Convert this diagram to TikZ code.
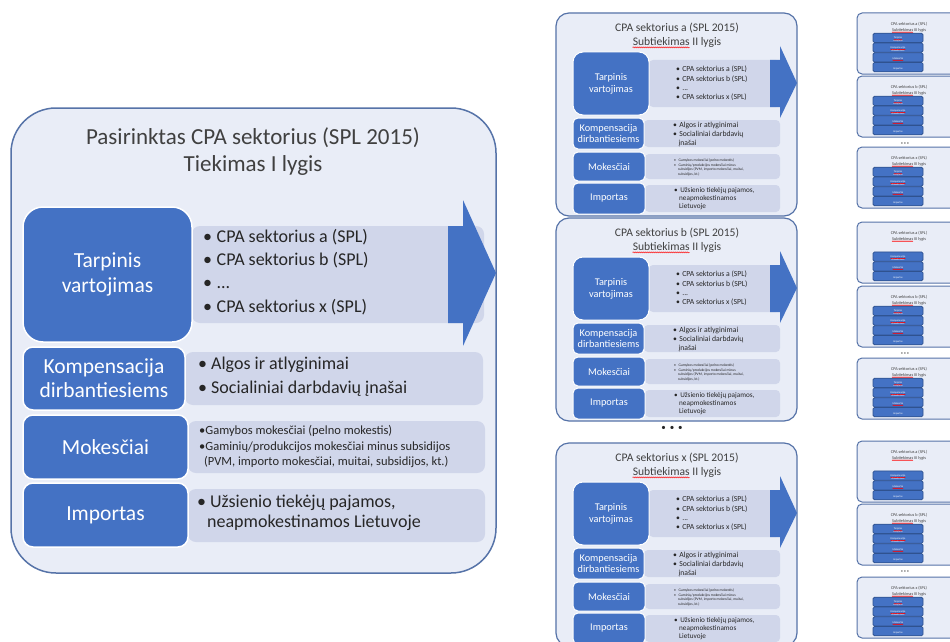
\documentclass[tikz,border=0pt]{standalone}
\usepackage{fontspec}
\setmainfont{Carlito}
\usetikzlibrary{decorations.pathmorphing}
\definecolor{boxblue}{HTML}{4472C4}
\definecolor{boxdark}{HTML}{2F528F}
\definecolor{panelfill}{HTML}{E9EDF7}
\definecolor{panelline}{HTML}{5673A8}
\definecolor{rowfill}{HTML}{D0D6EA}
\definecolor{titlegray}{HTML}{404040}
\definecolor{bodytext}{HTML}{262626}
\newcommand\fs[2]{\fontsize{#1}{#2}\selectfont}
\newlength\subwmid
\newlength\subwsmall
\AtBeginDocument{%
  \settowidth{\subwmid}{\fs{11.6}{14}Subtiekimas}%
  \settowidth{\subwsmall}{\fs{4.3}{5}Subtiekimas}%
}
\tikzset{
  panel/.style={fill=panelfill, draw=panelline, line width=1.5pt},
  row/.style={fill=rowfill},
  bluebox/.style={fill=boxblue, draw=white, line width=1.5pt, text=white, align=center, inner sep=0pt},
  txt/.style={text=bodytext, inner sep=0pt, anchor=mid west},
  ttl/.style={text=titlegray, inner sep=0pt, anchor=mid},
  squig/.style={draw=red, line width=0.4pt, decorate, decoration={snake, segment length=2pt, amplitude=0.6pt}},
  tinysquig/.style={draw=red, line width=0.3pt, decorate, decoration={snake, segment length=1pt, amplitude=0.35pt}},
  minibar/.style={fill=boxblue, draw=boxdark, line width=0.8pt, rounded corners=1.5pt, minimum width=50pt, minimum height=9.4pt, inner sep=0pt},
  barlbl/.style={text=white, inner sep=0pt, anchor=mid, font=\fs{2.6}{3}},
}
% middle panel: #1 = vertical offset, #2 = sector letter
\newcommand\midpanel[2]{%
\begin{scope}[shift={(0,#1)}]
  \draw[panel, line width=1.2pt, rounded corners=13pt] (556,13) rectangle (797,216);
  \node[ttl, font=\fs{11.6}{14}] (mtA#2) at (677,29) {CPA sektorius #2 (SPL 2015)};
  \node[ttl, font=\fs{11.6}{14}] (mtB#2) at (677,43) {Subtiekimas II lygis};
  \draw[squig] ([yshift=-2pt]mtB#2.base west) -- ([yshift=-2pt, xshift=\subwmid]mtB#2.base west);
  \fill[row, rounded corners=4pt] (649,60) rectangle (780,107);
  \fill[row, rounded corners=4pt] (644,120) rectangle (780,147);
  \fill[row, rounded corners=4pt] (645,154) rectangle (780,179);
  \fill[row, rounded corners=4pt] (645,185) rectangle (780,212);
  \fill[boxblue] (770,60) -- (780,60) -- (780,46) -- (797,83) -- (780,118) -- (780,107) -- (770,107) -- cycle;
  \node[bluebox, line width=1pt, rounded corners=10pt, minimum width=76pt, minimum height=63pt, font=\fs{10.3}{12}] (mtv#2) at (611,83.5) {Tarpinis\\vartojimas};
  \node[bluebox, line width=1pt, rounded corners=5pt, minimum width=71pt, minimum height=31pt, font=\fs{10.3}{10.8}] (mko#2) at (608.5,133.5) {Kompensacija\\dirbantiesiems};
  \node[bluebox, line width=1pt, rounded corners=5pt, minimum width=72pt, minimum height=29pt, font=\fs{10.3}{12}] (mmo#2) at (609,166.5) {Mokesčiai};
  \node[bluebox, line width=1pt, rounded corners=5pt, minimum width=72pt, minimum height=31pt, font=\fs{10.3}{12}] (mim#2) at (609,198.5) {Importas};
  \node[txt, font=\fs{7.7}{9}] (mb1#2) at (676,69.5) {•\hspace{2.3pt}CPA sektorius a (SPL)};
  \node[txt, font=\fs{7.7}{9}] (mb2#2) at (676,78.7) {•\hspace{2.3pt}CPA sektorius b (SPL)};
  \node[txt, font=\fs{7.7}{9}] (mb3#2) at (676,88) {•\hspace{2.3pt}...};
  \node[txt, font=\fs{7.7}{9}] (mb4#2) at (676,97.3) {•\hspace{2.3pt}CPA sektorius x (SPL)};
  \node[txt, font=\fs{7.7}{9}] (mc1#2) at (673,125) {•\hspace{2.3pt}Algos ir atlyginimai};
  \node[txt, font=\fs{7.7}{9}] (mc2#2) at (673,134) {•\hspace{2.3pt}Socialiniai darbdavių};
  \node[txt, font=\fs{7.7}{9}] (mc3#2) at (678.3,143) {įnašai};
  \node[txt, font=\fs{3.7}{4.5}] (md1#2) at (674,159) {•\hspace{2.7pt}Gamybos mokesčiai (pelno mokestis)};
  \node[txt, font=\fs{3.7}{4.5}] (md2#2) at (674,164) {•\hspace{2.7pt}Gaminių/produkcijos mokesčiai minus};
  \node[txt, font=\fs{3.7}{4.5}] (md3#2) at (678,168.5) {subsidijos (PVM, importo mokesčiai, muitai,};
  \node[txt, font=\fs{3.7}{4.5}] (md4#2) at (678,173) {subsidijos, kt.)};
  \node[txt, font=\fs{7.2}{8}] (me1#2) at (674,190) {•\hspace{2.5pt}Užsienio tiekėjų pajamos,};
  \node[txt, font=\fs{7.2}{8}] (me2#2) at (679,198) {neapmokestinamos};
  \node[txt, font=\fs{7.2}{8}] (me3#2) at (679,206) {Lietuvoje};
\end{scope}}
% small bar with label (and second line)
\newcommand\bartwo[5]{% name, y, line1, line2, squiggle? (1/0)
  \node[minibar] (#1) at (898,#2) {};
  \node[barlbl] (#1u) at (898,#2-1.4) {#3};
  \ifnum#5=1 \draw[tinysquig] ([yshift=-0.3pt]#1u.south west) -- ([yshift=-0.3pt]#1u.south east);\fi
  \node[barlbl, font=\fs{2.2}{3}] (#1l) at (898,#2+1.7) {#4};
}
\newcommand\barone[4]{% name, y, line, squiggle?
  \node[minibar] (#1) at (898,#2) {};
  \node[barlbl] (#1u) at (898,#2) {#3};
  \ifnum#4=1 \draw[tinysquig] ([yshift=-0.3pt]#1u.south west) -- ([yshift=-0.3pt]#1u.south east);\fi
}
% right small panel: #1 top, #2 letter, #3 bars (3/4), #4 id
\newcommand\smallpanel[4]{%
\begin{scope}[shift={(0,#1)}]
  \draw[panel, line width=1pt, rounded corners=5pt] (857,0) rectangle (970,61);
  \node[ttl, font=\fs{4.3}{5}] (sA#4) at (909,10) {CPA sektorius #2 (SPL)};
  \node[ttl, font=\fs{4.3}{5}] (sB#4) at (909,15.8) {Subtiekimas III lygis};
  \draw[tinysquig] ([yshift=-1pt]sB#4.base west) -- ([yshift=-1pt, xshift=\subwsmall]sB#4.base west);
  \ifnum#3=4 \bartwo{#4t}{24.9}{Tarpinis}{vartojimas}{1}\fi
  \bartwo{#4k}{34.6}{Kompensacija}{dirbantiesiems}{1}
  \barone{#4m}{44.4}{Mokesčiai}{1}
  \barone{#4i}{54.1}{Importas}{0}
\end{scope}}
\begin{document}
\begin{tikzpicture}[x=1pt, y=-1pt]
\useasboundingbox (0,0) rectangle (950,642);
\fill[white] (0,0) rectangle (950,642);
\clip (0,0) rectangle (950,642);
% ===== left main panel =====
\draw[panel, rounded corners=45pt] (11,108) rectangle (496,573);
\node[ttl, font=\fs{23}{27}] (mainA) at (253,142) {Pasirinktas CPA sektorius (SPL 2015)};
\node[ttl, font=\fs{23}{27}] (mainB) at (253,169) {Tiekimas I lygis};
\fill[row, rounded corners=8pt] (192,226) rectangle (484,323);
\fill[row, rounded corners=8pt] (185,352) rectangle (483,405);
\fill[row, rounded corners=8pt] (188,421) rectangle (485,473);
\fill[row, rounded corners=8pt] (188,489) rectangle (485,542);
\fill[boxblue] (448,226) -- (463,226) -- (463,200) -- (496,273) -- (463,346) -- (463,323) -- (448,323) -- cycle;
\node[bluebox, rounded corners=20pt, minimum width=169pt, minimum height=135pt, font=\fs{21.5}{25}] (tv) at (107.5,274.5) {Tarpinis\\vartojimas};
\node[bluebox, rounded corners=10pt, minimum width=162pt, minimum height=63pt, font=\fs{21.5}{24}] (ko) at (104,378.5) {Kompensacija\\dirbantiesiems};
\node[bluebox, rounded corners=10pt, minimum width=165pt, minimum height=64pt, font=\fs{21.5}{24}] (mo) at (105.5,447) {Mokesčiai};
\node[bluebox, rounded corners=10pt, minimum width=165pt, minimum height=64pt, font=\fs{21.5}{24}] (im) at (105.5,515) {Importas};
\node[txt, font=\fs{18}{20}] (b1) at (203,240) {•\hspace{4.5pt}CPA sektorius a (SPL)};
\node[txt, font=\fs{18}{20}] (b2) at (203,263.3) {•\hspace{4.5pt}CPA sektorius b (SPL)};
\node[txt, font=\fs{18}{20}] (b3) at (203,286.5) {•\hspace{4.5pt}...};
\node[txt, font=\fs{18}{20}] (b4) at (203,309.8) {•\hspace{4.5pt}CPA sektorius x (SPL)};
\node[txt, font=\fs{18}{20}] (c1) at (198,367.5) {•\hspace{4pt}Algos ir atlyginimai};
\node[txt, font=\fs{18}{20}] (c2) at (198,391.5) {•\hspace{4pt}Socialiniai darbdavių įnašai};
\node[txt, font=\fs{12.5}{15}] (d1) at (199,432) {•Gamybos mokesčiai (pelno mokestis)};
\node[txt, font=\fs{12.5}{15}] (d2) at (199,448) {•Gaminių/produkcijos mokesčiai minus subsidijos};
\node[txt, font=\fs{12.5}{15}] (d3) at (204,463) {(PVM, importo mokesčiai, muitai, subsidijos, kt.)};
\node[txt, font=\fs{18}{20}] (e1) at (197,505.5) {•\hspace{4pt}Užsienio tiekėjų pajamos,};
\node[txt, font=\fs{18}{20}] (e2) at (207,525.5) {neapmokestinamos Lietuvoje};
% ===== middle column =====
\midpanel{0}{a}
\midpanel{205}{b}
\midpanel{430}{x}
\node[txt, anchor=mid, font=\fs{9}{10}] (middots) at (672,428) {•\hspace{4pt}•\hspace{4pt}•};
% ===== right column =====
\smallpanel{13}{a}{4}{ga}
\smallpanel{76}{b}{4}{gb}
\smallpanel{147}{x}{4}{gx}
\node[txt, anchor=mid, font=\fs{3.6}{4}] (rd1) at (905,142) {•\hspace{1.2pt}•\hspace{1.2pt}•};
\smallpanel{222}{a}{3}{ha}
\smallpanel{286}{b}{4}{hb}
\smallpanel{358}{x}{4}{hx}
\node[txt, anchor=mid, font=\fs{3.6}{4}] (rd2) at (905,352) {•\hspace{1.2pt}•\hspace{1.2pt}•};
\smallpanel{441}{a}{3}{ka}
\smallpanel{504}{b}{4}{kb}
\smallpanel{577}{x}{4}{kx}
\node[txt, anchor=mid, font=\fs{3.6}{4}] (rd3) at (905,570) {•\hspace{1.2pt}•\hspace{1.2pt}•};
\end{tikzpicture}
\end{document}
